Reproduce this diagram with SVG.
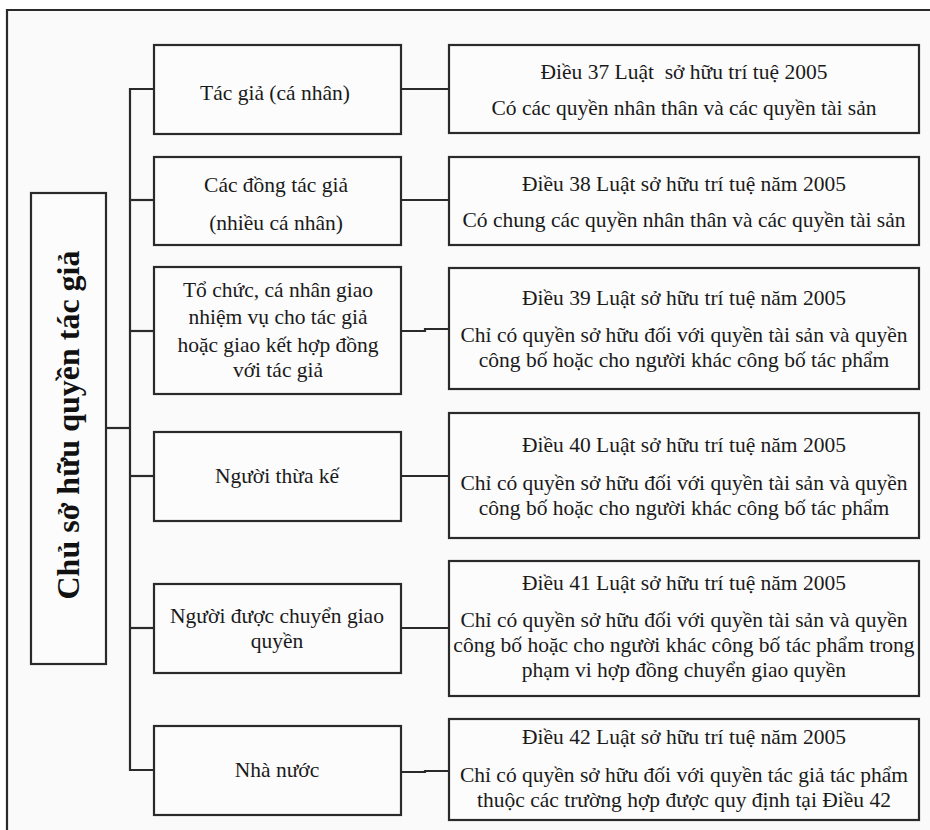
<svg xmlns="http://www.w3.org/2000/svg" width="930" height="830" viewBox="0 0 930 830">
<style>
.box{fill:#fcfcfc;stroke:#2a2a2a;stroke-width:2.2}
.ln{fill:none;stroke:#2a2a2a;stroke-width:2.2}
.t{font-family:"Liberation Serif","Times New Roman",serif;font-size:21.5px;fill:#1a1a1a;text-anchor:middle;white-space:pre}
.title{font-family:"Liberation Serif","Times New Roman",serif;font-size:32px;font-weight:bold;fill:#111;text-anchor:middle}
</style>
<rect x="0" y="0" width="930" height="830" fill="#ffffff"/>
<rect x="8" y="10" width="922" height="820" fill="#fafafa"/>
<path class="ln" d="M7,830 V10 H930" stroke-width="2.6"/>

<g id="root">
<rect class="box" x="31" y="193" width="75" height="471"/>
<text class="title" transform="translate(79,425) rotate(-90)">Chủ sở hữu quyền tác giả</text>
</g>

<g id="connectors">
<path class="ln" d="M106,428 H130"/>
<path class="ln" d="M154,89 H130 V770 H154"/>
<path class="ln" d="M130,200 H154"/>
<path class="ln" d="M130,331 H154"/>
<path class="ln" d="M130,476 H154"/>
<path class="ln" d="M130,628 H154"/>
<path class="ln" d="M401,89 H449"/>
<path class="ln" d="M401,200 H449"/>
<path class="ln" d="M401,331 H425 V329 H449"/>
<path class="ln" d="M401,476 H449"/>
<path class="ln" d="M401,628 H449"/>
<path class="ln" d="M401,772 H425 V771 H449"/>
</g>

<g id="m1">
<rect class="box" x="154" y="45" width="247" height="89"/>
<text class="t" x="275" y="100">Tác giả (cá nhân)</text>
</g>
<g id="m2">
<rect class="box" x="154" y="157" width="247" height="88"/>
<text class="t" x="276" y="192">Các đồng tác giả</text>
<text class="t" x="276" y="230">(nhiều cá nhân)</text>
</g>
<g id="m3">
<rect class="box" x="154" y="267" width="247" height="127"/>
<text class="t" x="278" y="297">Tổ chức, cá nhân giao</text>
<text class="t" x="278" y="324">nhiệm vụ cho tác giả</text>
<text class="t" x="278" y="352">hoặc giao kết hợp đồng</text>
<text class="t" x="278" y="377">với tác giả</text>
</g>
<g id="m4">
<rect class="box" x="154" y="432" width="247" height="89"/>
<text class="t" x="277" y="483">Người thừa kế</text>
</g>
<g id="m5">
<rect class="box" x="154" y="584" width="247" height="89"/>
<text class="t" x="277" y="623">Người được chuyển giao</text>
<text class="t" x="277" y="648">quyền</text>
</g>
<g id="m6">
<rect class="box" x="154" y="726" width="247" height="89"/>
<text class="t" x="277" y="777">Nhà nước</text>
</g>

<g id="r1">
<rect class="box" x="449" y="45" width="470" height="88"/>
<text class="t" x="684" y="79">Điều 37 Luật  sở hữu trí tuệ 2005</text>
<text class="t" x="684" y="115">Có các quyền nhân thân và các quyền tài sản</text>
</g>
<g id="r2">
<rect class="box" x="449" y="157" width="470" height="88"/>
<text class="t" x="684" y="191">Điều 38 Luật sở hữu trí tuệ năm 2005</text>
<text class="t" x="684" y="227">Có chung các quyền nhân thân và các quyền tài sản</text>
</g>
<g id="r3">
<rect class="box" x="449" y="268" width="470" height="121"/>
<text class="t" x="684" y="305">Điều 39 Luật sở hữu trí tuệ năm 2005</text>
<text class="t" x="684" y="342">Chỉ có quyền sở hữu đối với quyền tài sản và quyền</text>
<text class="t" x="684" y="367">công bố hoặc cho người khác công bố tác phẩm</text>
</g>
<g id="r4">
<rect class="box" x="449" y="413" width="470" height="125"/>
<text class="t" x="684" y="452">Điều 40 Luật sở hữu trí tuệ năm 2005</text>
<text class="t" x="684" y="490">Chỉ có quyền sở hữu đối với quyền tài sản và quyền</text>
<text class="t" x="684" y="515">công bố hoặc cho người khác công bố tác phẩm</text>
</g>
<g id="r5">
<rect class="box" x="449" y="561" width="470" height="135"/>
<text class="t" x="684" y="590">Điều 41 Luật sở hữu trí tuệ năm 2005</text>
<text class="t" x="684" y="627">Chỉ có quyền sở hữu đối với quyền tài sản và quyền</text>
<text class="t" x="684" y="652">công bố hoặc cho người khác công bố tác phẩm trong</text>
<text class="t" x="684" y="677">phạm vi hợp đồng chuyển giao quyền</text>
</g>
<g id="r6">
<rect class="box" x="449" y="719" width="470" height="101"/>
<text class="t" x="684" y="744">Điều 42 Luật sở hữu trí tuệ năm 2005</text>
<text class="t" x="684" y="782">Chỉ có quyền sở hữu đối với quyền tác giả tác phẩm</text>
<text class="t" x="684" y="807">thuộc các trường hợp được quy định tại Điều 42</text>
</g>
</svg>
